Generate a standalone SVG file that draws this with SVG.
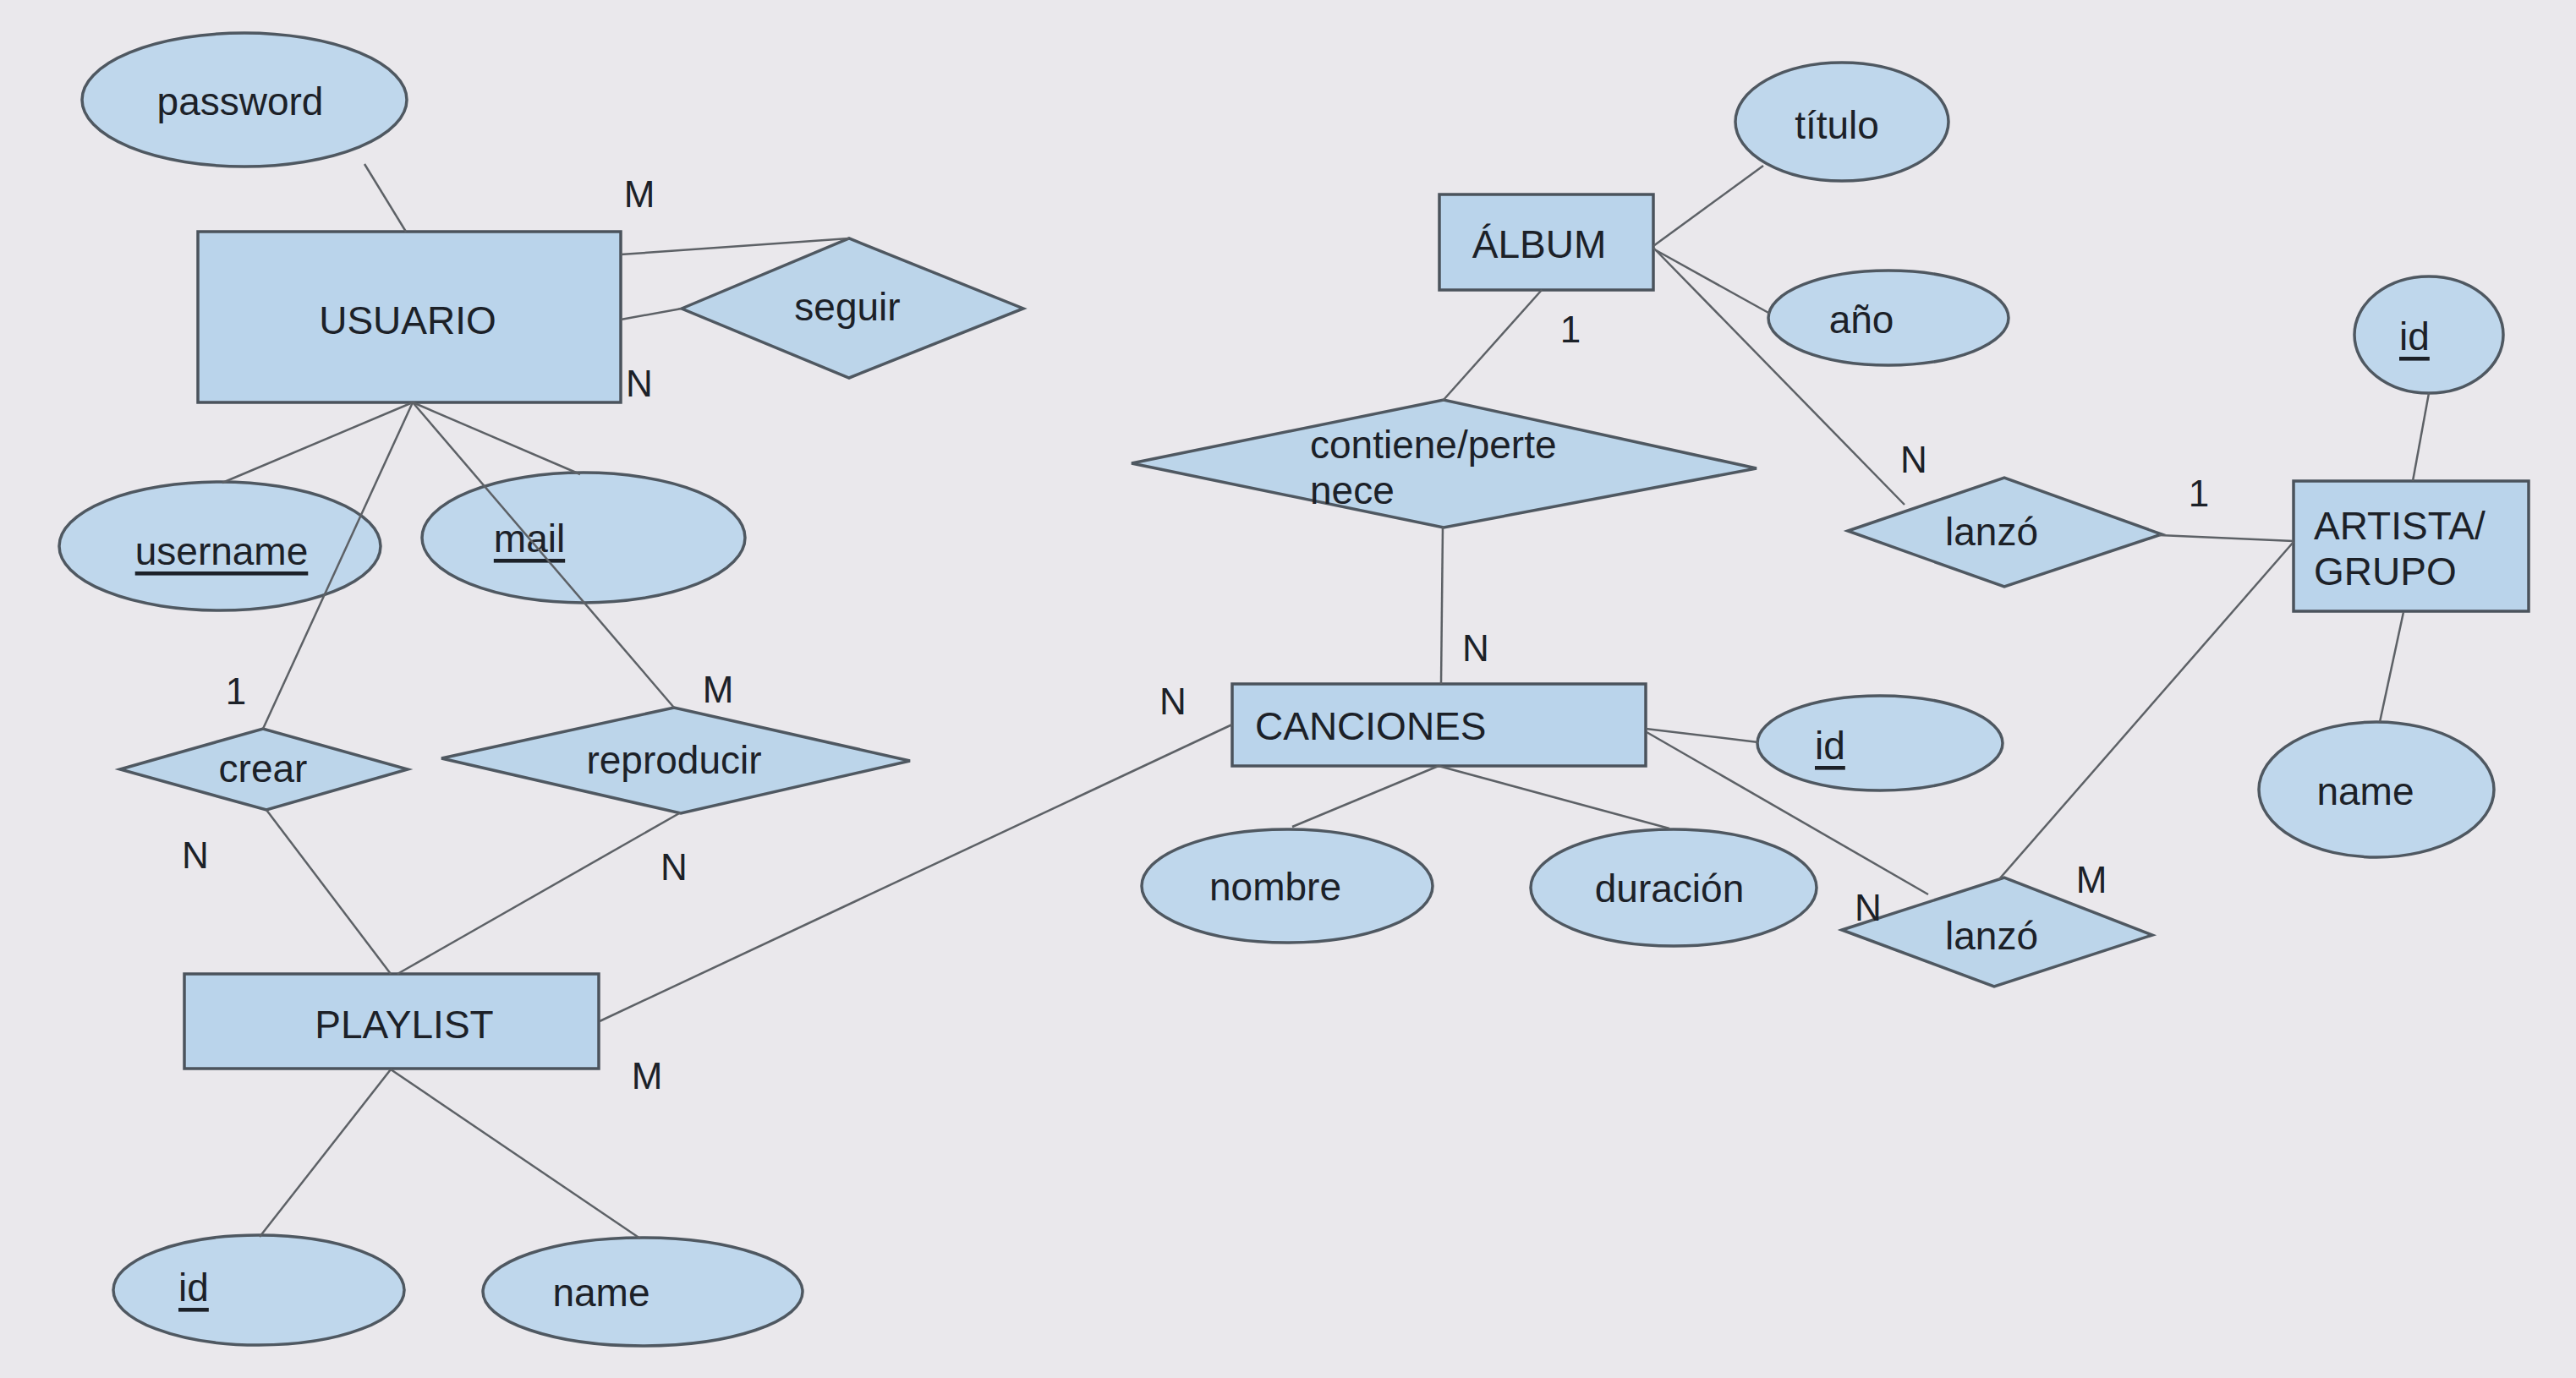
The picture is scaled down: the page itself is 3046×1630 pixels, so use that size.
<svg xmlns="http://www.w3.org/2000/svg" width="3046" height="1630" viewBox="0 0 3046 1630">
<style>
.ent{fill:#bad4eb;stroke:#4b535c;stroke-width:3.5}
.att{fill:#bfd7ec;stroke:#4f5861;stroke-width:3.5}
.rel{fill:#bcd5ea;stroke:#4f5861;stroke-width:3.5}
.t{font-family:"Liberation Sans",Arial,sans-serif;font-size:46px;fill:#1c2128;dominant-baseline:central}
.c{text-anchor:middle}
.u{text-decoration:underline}
.lbl{font-family:"Liberation Sans",Arial,sans-serif;font-size:44px;fill:#1c2128;text-anchor:middle;dominant-baseline:central}
#connectors line{stroke:#5d6166;stroke-width:2.5}
</style>
<rect x="0" y="0" width="3046" height="1630" fill="#eae8ec"/>
<g id="usuario"><rect class="ent" x="234" y="274" width="500" height="202"/><text class="t c" x="482" y="379">USUARIO</text></g>
<g id="password"><ellipse class="att" cx="289" cy="118" rx="192" ry="79"/><text class="t c" x="284" y="120">password</text></g>
<g id="seguir"><polygon class="rel" points="806,365 1004,282 1210,365 1004,447"/><text class="t c" x="1002" y="363">seguir</text></g>
<g id="username"><ellipse class="att" cx="260" cy="646" rx="190" ry="76"/><text class="t c u" x="262" y="652">username</text></g>
<g id="mail"><ellipse class="att" cx="690" cy="636" rx="191" ry="77"/><text class="t c u" x="626" y="637">mail</text></g>
<g id="crear"><polygon class="rel" points="142,910 311,862 482,910 315,958"/><text class="t c" x="311" y="909">crear</text></g>
<g id="reproducir"><polygon class="rel" points="522,897 797,837 1076,900 805,962"/><text class="t c" x="797" y="899">reproducir</text></g>
<g id="playlist"><rect class="ent" x="218" y="1152" width="490" height="112"/><text class="t c" x="478" y="1212">PLAYLIST</text></g>
<g id="playlist-id"><ellipse class="att" cx="306" cy="1526" rx="172" ry="65"/><text class="t u" x="211" y="1523">id</text></g>
<g id="playlist-name"><ellipse class="att" cx="760" cy="1528" rx="189" ry="64"/><text class="t c" x="711" y="1529">name</text></g>
<g id="album"><rect class="ent" x="1702" y="230" width="253" height="113"/><text class="t c" x="1820" y="289">ÁLBUM</text></g>
<g id="titulo"><ellipse class="att" cx="2178" cy="144" rx="126" ry="70"/><text class="t c" x="2172" y="148">título</text></g>
<g id="anio"><ellipse class="att" cx="2233" cy="376" rx="142" ry="56"/><text class="t c" x="2201" y="378">año</text></g>
<g id="contiene"><polygon class="rel" points="1338,548 1707,473 2077,554 1707,624"/><text class="t" x="1549" y="526">contiene/perte</text><text class="t" x="1549" y="580">nece</text></g>
<g id="canciones"><rect class="ent" x="1457" y="809" width="489" height="97"/><text class="t" x="1484" y="859">CANCIONES</text></g>
<g id="canciones-id"><ellipse class="att" cx="2223" cy="879" rx="145" ry="56"/><text class="t u" x="2146" y="882">id</text></g>
<g id="nombre"><ellipse class="att" cx="1522" cy="1048" rx="172" ry="67"/><text class="t c" x="1508" y="1049">nombre</text></g>
<g id="duracion"><ellipse class="att" cx="1979" cy="1050" rx="169" ry="69"/><text class="t c" x="1974" y="1051">duración</text></g>
<g id="lanzo1"><polygon class="rel" points="2185,628 2370,565 2556,632 2370,694"/><text class="t c" x="2355" y="629">lanzó</text></g>
<g id="lanzo2"><polygon class="rel" points="2178,1100 2370,1038 2545,1106 2358,1167"/><text class="t c" x="2355" y="1107">lanzó</text></g>
<g id="artista"><rect class="ent" x="2712" y="569" width="278" height="154"/><text class="t" x="2736" y="622">ARTISTA/</text><text class="t" x="2736" y="676">GRUPO</text></g>
<g id="artista-id"><ellipse class="att" cx="2872" cy="396" rx="88" ry="69"/><text class="t u" x="2837" y="398">id</text></g>
<g id="artista-name"><ellipse class="att" cx="2810" cy="934" rx="139" ry="80"/><text class="t c" x="2797" y="936">name</text></g>
<g id="connectors">
<line x1="431" y1="194" x2="480" y2="274"/>
<line x1="734" y1="301" x2="1004" y2="282"/>
<line x1="734" y1="378" x2="806" y2="365"/>
<line x1="488" y1="476" x2="263" y2="571"/>
<line x1="488" y1="476" x2="686" y2="561"/>
<line x1="488" y1="476" x2="311" y2="862"/>
<line x1="488" y1="476" x2="797" y2="837"/>
<line x1="315" y1="958" x2="462" y2="1152"/>
<line x1="805" y1="961" x2="470" y2="1152"/>
<line x1="709" y1="1208" x2="1457" y2="857"/>
<line x1="462" y1="1265" x2="307" y2="1463"/>
<line x1="462" y1="1265" x2="757" y2="1465"/>
<line x1="1955" y1="291" x2="2085" y2="196"/>
<line x1="1958" y1="296" x2="2093" y2="371"/>
<line x1="1955" y1="293" x2="2252" y2="597"/>
<line x1="1823" y1="343" x2="1706" y2="474"/>
<line x1="1706" y1="623" x2="1704" y2="809"/>
<line x1="2553" y1="633" x2="2712" y2="640"/>
<line x1="2872" y1="465" x2="2853" y2="569"/>
<line x1="2842" y1="724" x2="2814" y2="854"/>
<line x1="1946" y1="862" x2="2079" y2="878"/>
<line x1="1701" y1="906" x2="1528" y2="978"/>
<line x1="1701" y1="906" x2="1974" y2="980"/>
<line x1="1947" y1="866" x2="2280" y2="1058"/>
<line x1="2363" y1="1041" x2="2712" y2="641"/>
</g>
<g id="labels">
<text class="lbl" x="756" y="229">M</text>
<text class="lbl" x="756" y="453">N</text>
<text class="lbl" x="279" y="817">1</text>
<text class="lbl" x="849" y="815">M</text>
<text class="lbl" x="231" y="1011">N</text>
<text class="lbl" x="797" y="1025">N</text>
<text class="lbl" x="765" y="1272">M</text>
<text class="lbl" x="1857" y="389">1</text>
<text class="lbl" x="2263" y="543">N</text>
<text class="lbl" x="2600" y="583">1</text>
<text class="lbl" x="1745" y="766">N</text>
<text class="lbl" x="1387" y="829">N</text>
<text class="lbl" x="2209" y="1073">N</text>
<text class="lbl" x="2473" y="1040">M</text>
</g>
</svg>
